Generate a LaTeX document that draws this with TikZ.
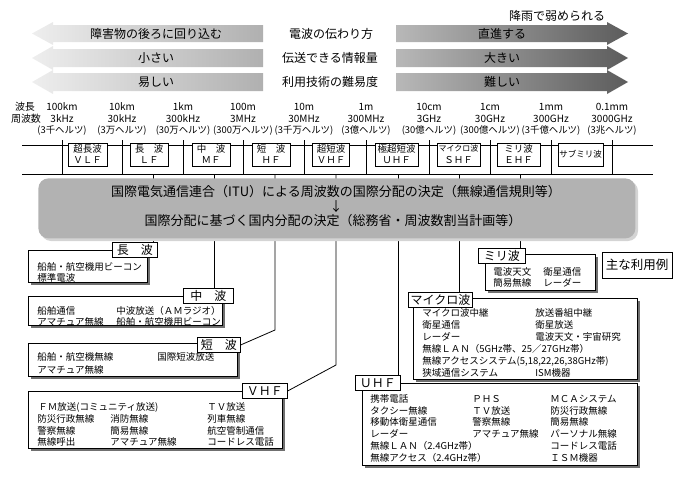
\documentclass[tikz,border=0pt]{standalone}
\usepackage{fontspec}
\setmainfont{Noto Sans CJK JP}
\usetikzlibrary{shadows}
\definecolor{itugray}{HTML}{B2B2B2}
\definecolor{itushadow}{HTML}{D4D4D4}
\definecolor{lgA}{HTML}{EEEEEE}
\definecolor{lgB}{HTML}{B0B0B0}
\definecolor{rgA}{HTML}{B8B8B8}
\definecolor{rgB}{HTML}{5C5C5C}
\definecolor{shad}{HTML}{707070}
\begin{document}
\begin{tikzpicture}[x=1pt,y=-1pt,line width=0.8pt,
  atxt/.style={inner sep=0pt,font=\fontsize{12}{14}\selectfont},
  stxt/.style={inner sep=0pt,font=\fontsize{10}{12}\selectfont},
  ptxt/.style={inner sep=0pt,font=\fontsize{9.4}{12}\selectfont},
  band/.style={draw,fill=white,inner sep=0pt,align=center,minimum height=23pt,font=\fontsize{9.5}{11}\selectfont},
  lab/.style={draw,fill=white,inner sep=0pt,minimum height=15pt,anchor=north west,font=\fontsize{12}{14}\selectfont},
  cbox/.style={draw,fill=white,inner sep=0pt,anchor=north west,general shadow={fill=shad,shadow xshift=3pt,shadow yshift=-3pt}},
  ctxt/.style={inner sep=0pt,anchor=west,font=\fontsize{9.5}{12}\selectfont},
  itutxt/.style={inner sep=0pt,font=\fontsize{13}{15}\selectfont}]
\useasboundingbox (0,0) rectangle (683,479);

% ---- top arrows
\foreach \t/\b in {25/42,49/67,73/91}{
  \path[left color=lgA,right color=lgB] (263,\t) -- (53,\t) -- (53,\t-3) -- (32,{(\t+\b)/2}) -- (53,\b+3) -- (53,\b) -- (263,\b) -- cycle;
  \path[left color=rgA,right color=rgB] (396,\t) -- (607,\t) -- (607,\t-3) -- (628,{(\t+\b)/2}) -- (607,\b+3) -- (607,\b) -- (396,\b) -- cycle;
}
\node[atxt] (la1) at (156,33.5) {障害物の後ろに回り込む};
\node[atxt] (la2) at (156,58) {小さい};
\node[atxt] (la3) at (156,82) {易しい};
\node[atxt] (ra1) at (502,33.5) {直進する};
\node[atxt] (ra2) at (502,58) {大きい};
\node[atxt] (ra3) at (502,82) {難しい};
\node[atxt] (m1) at (331,34) {電波の伝わり方};
\node[atxt] (m2) at (330,58) {伝送できる情報量};
\node[atxt] (m3) at (330,82) {利用技術の難易度};
\node[atxt] (rain) at (557,16) {降雨で弱められる};

% ---- scale
\node[stxt] (wl) at (25,107) {波長};
\node[stxt] (fq) at (26,119) {周波数};
\foreach \x/\w/\f/\h [count=\i] in {62/100km/3kHz/(3千ヘルツ),122/10km/30kHz/(3万ヘルツ),183/1km/300kHz/(30万ヘルツ),243/100m/3MHz/(300万ヘルツ),304/10m/30MHz/(3千万ヘルツ),366/1m/300MHz/(3億ヘルツ),429/10cm/3GHz/(30億ヘルツ),490/1cm/30GHz/(300億ヘルツ),551/1mm/300GHz/(3千億ヘルツ),612/0.1mm/3000GHz/(3兆ヘルツ)}{
  \node[stxt] (w\i) at (\x,107) {\w};
  \node[stxt] (f\i) at (\x,119) {\f};
  \node[ptxt] (h\i) at (\x,130.5) {\h};
  \draw (\x,140) -- (\x,174);
}
\draw (22,145) -- (653,145);
\draw (22,174) -- (653,174);

\node[band,minimum width=39pt] (vlf) at (87.5,154.5) {超長波\\ＶＬＦ};
\node[band,minimum width=38pt] (lf) at (149,154.5) {長　波\\ＬＦ};
\node[band,minimum width=38pt] (mf) at (211,154.5) {中　波\\ＭＦ};
\node[band,minimum width=38pt] (hf) at (271,154.5) {短　波\\ＨＦ};
\node[band,minimum width=37pt] (vhf) at (331,154.5) {超短波\\ＶＨＦ};
\node[band,minimum width=43pt] (uhf) at (396.5,154.5) {極超短波\\ＵＨＦ};
\node[band,minimum width=43pt,font=\fontsize{8}{11}\selectfont] (shf) at (458.5,154.5) {マイクロ波\\[1pt]{\fontsize{9.5}{11}\selectfont ＳＨＦ}};
\node[band,minimum width=43pt] (ehf) at (518.5,154.5) {ミリ波\\ＥＨＦ};
\node[band,minimum width=45pt,font=\fontsize{8.5}{11}\selectfont] (sub) at (580.5,154.5) {サブミリ波};

\coordinate (lfc) at (153,174);
\coordinate (mfc) at (214,174);
\coordinate (hfc) at (275,174);
\coordinate (vhc) at (336,174);
\coordinate (uhc) at (398,174);
\coordinate (shc) at (459,174);
\coordinate (ehc) at (520,174);
\coordinate (hfk) at (275,330);
\coordinate (vhk) at (336,365);

% ---- usage boxes
\node[cbox,minimum width=119pt,minimum height=32pt] (lwbox) at (28,250) {};
\node[lab,minimum width=45pt] (lwlab) at (112,242) {長　波};
\node[ctxt] (lw1) at (37,267) {船舶・航空機用ビーコン};
\node[ctxt] (lw2) at (37,277.5) {標準電波};

\node[cbox,minimum width=194pt,minimum height=29pt] (mwbox) at (28,296) {};
\node[lab,minimum width=50pt] (mwlab) at (183,288) {中　波};
\node[ctxt] (mw1) at (37,311) {船舶通信};
\node[ctxt] (mw2) at (116,311) {中波放送（ＡＭラジオ）};
\node[ctxt] (mw3) at (37,322) {アマチュア無線};
\node[ctxt] (mw4) at (116,322) {船舶・航空機用ビーコン};

\node[cbox,minimum width=209pt,minimum height=33pt] (swbox) at (28,343) {};
\node[lab,minimum width=43pt] (swlab) at (197,337) {短　波};
\node[ctxt] (sw1) at (37,357) {船舶・航空機無線};
\node[ctxt] (sw2) at (157,357) {国際短波放送};
\node[ctxt] (sw3) at (37,370) {アマチュア無線};

\node[cbox,minimum width=254pt,minimum height=57pt] (vhbox) at (28,391) {};
\node[lab,minimum width=45pt] (vhlab) at (242,383) {ＶＨＦ};
\node[ctxt] (vh1) at (38,407) {ＦＭ放送(コミュニティ放送)};
\node[ctxt] (vh2) at (207,407) {ＴＶ放送};
\node[ctxt] (vh3) at (37,419) {防災行政無線};
\node[ctxt] (vh4) at (110,419) {消防無線};
\node[ctxt] (vh5) at (207,419) {列車無線};
\node[ctxt] (vh6) at (37,431) {警察無線};
\node[ctxt] (vh7) at (110,431) {簡易無線};
\node[ctxt] (vh8) at (207,431) {航空管制通信};
\node[ctxt] (vh9) at (37,442) {無線呼出};
\node[ctxt] (vh10) at (110,442) {アマチュア無線};
\node[ctxt] (vh11) at (207,442) {コードレス電話};

\node[cbox,minimum width=110pt,minimum height=36pt] (mmbox) at (485,254) {};
\node[lab,minimum width=47pt] (mmlab) at (478,248) {ミリ波};
\node[ctxt] (mm1) at (493,272) {電波天文};
\node[ctxt] (mm2) at (543,272) {衛星通信};
\node[ctxt] (mm3) at (493,283) {簡易無線};
\node[ctxt] (mm4) at (543,283) {レーダー};

\node[draw,fill=white,inner sep=0pt,minimum width=70pt,minimum height=26pt,font=\fontsize{12.5}{15}\selectfont] (legend) at (637,265) {主な利用例};

\node[cbox,minimum width=224pt,minimum height=81pt] (mwvbox) at (413,298) {};
\node[lab,minimum width=64pt] (mwvlab) at (408,292) {マイクロ波};
\node[ctxt] (mv1) at (422,313) {マイクロ波中継};
\node[ctxt] (mv2) at (535,313) {放送番組中継};
\node[ctxt] (mv3) at (422,325) {衛星通信};
\node[ctxt] (mv4) at (535,325) {衛星放送};
\node[ctxt] (mv5) at (422,337) {レーダー};
\node[ctxt] (mv6) at (535,337) {電波天文・宇宙研究};
\node[ctxt] (mv7) at (422,349) {無線ＬＡＮ（5GHz帯、25／27GHz帯）};
\node[ctxt] (mv8) at (422,361) {無線アクセスシステム(5,18,22,26,38GHz帯)};
\node[ctxt] (mv9) at (422,373) {狭域通信システム};
\node[ctxt] (mv10) at (535,373) {ISM機器};

\node[cbox,minimum width=275pt,minimum height=82pt] (ubox) at (362,383) {};
\node[lab,minimum width=45pt] (ulab) at (355,375) {ＵＨＦ};
\node[ctxt] (u1) at (370,399) {携帯電話};
\node[ctxt] (u2) at (472,399) {ＰＨＳ};
\node[ctxt] (u3) at (550,399) {ＭＣＡシステム};
\node[ctxt] (u4) at (370,411) {タクシー無線};
\node[ctxt] (u5) at (472,411) {ＴＶ放送};
\node[ctxt] (u6) at (550,411) {防災行政無線};
\node[ctxt] (u7) at (370,422) {移動体衛星通信};
\node[ctxt] (u8) at (472,422) {警察無線};
\node[ctxt] (u9) at (550,422) {簡易無線};
\node[ctxt] (u10) at (370,434) {レーダー};
\node[ctxt] (u11) at (472,434) {アマチュア無線};
\node[ctxt] (u12) at (550,434) {パーソナル無線};
\node[ctxt] (u13) at (370,446) {無線ＬＡＮ（2.4GHz帯）};
\node[ctxt] (u14) at (550,446) {コードレス電話};
\node[ctxt] (u15) at (370,458) {無線アクセス（2.4GHz帯）};
\node[ctxt] (u16) at (550,458) {ＩＳＭ機器};

% ---- connectors
\draw (lfc) -- (lfc |- lwlab.north);
\draw (mfc) -- (mfc |- mwlab.north);
\draw (hfc) -- (hfk) -- (swlab.east);
\draw (vhc) -- (vhk) -- (vhlab.east);
\draw (uhc) -- (uhc |- ulab.north);
\draw (shc) -- (shc |- mwvlab.north);
\draw (ehc) -- (ehc |- mmlab.north);

% ---- ITU box (on top of connectors)
\fill[itushadow,rounded corners=10pt] (41,181) rectangle (638,241);
\node[fill=itugray,rounded corners=10pt,inner sep=0pt,minimum width=597pt,minimum height=60pt,anchor=north west] (itu) at (38,178) {};
\node[itutxt] (itu1) at (336,192) {国際電気通信連合（ITU）による周波数の国際分配の決定（無線通信規則等）};
\node[itutxt] (itu2) at (336,207) {↓};
\node[itutxt] (itu3) at (333,221) {国際分配に基づく国内分配の決定（総務省・周波数割当計画等）};
\end{tikzpicture}
\end{document}
